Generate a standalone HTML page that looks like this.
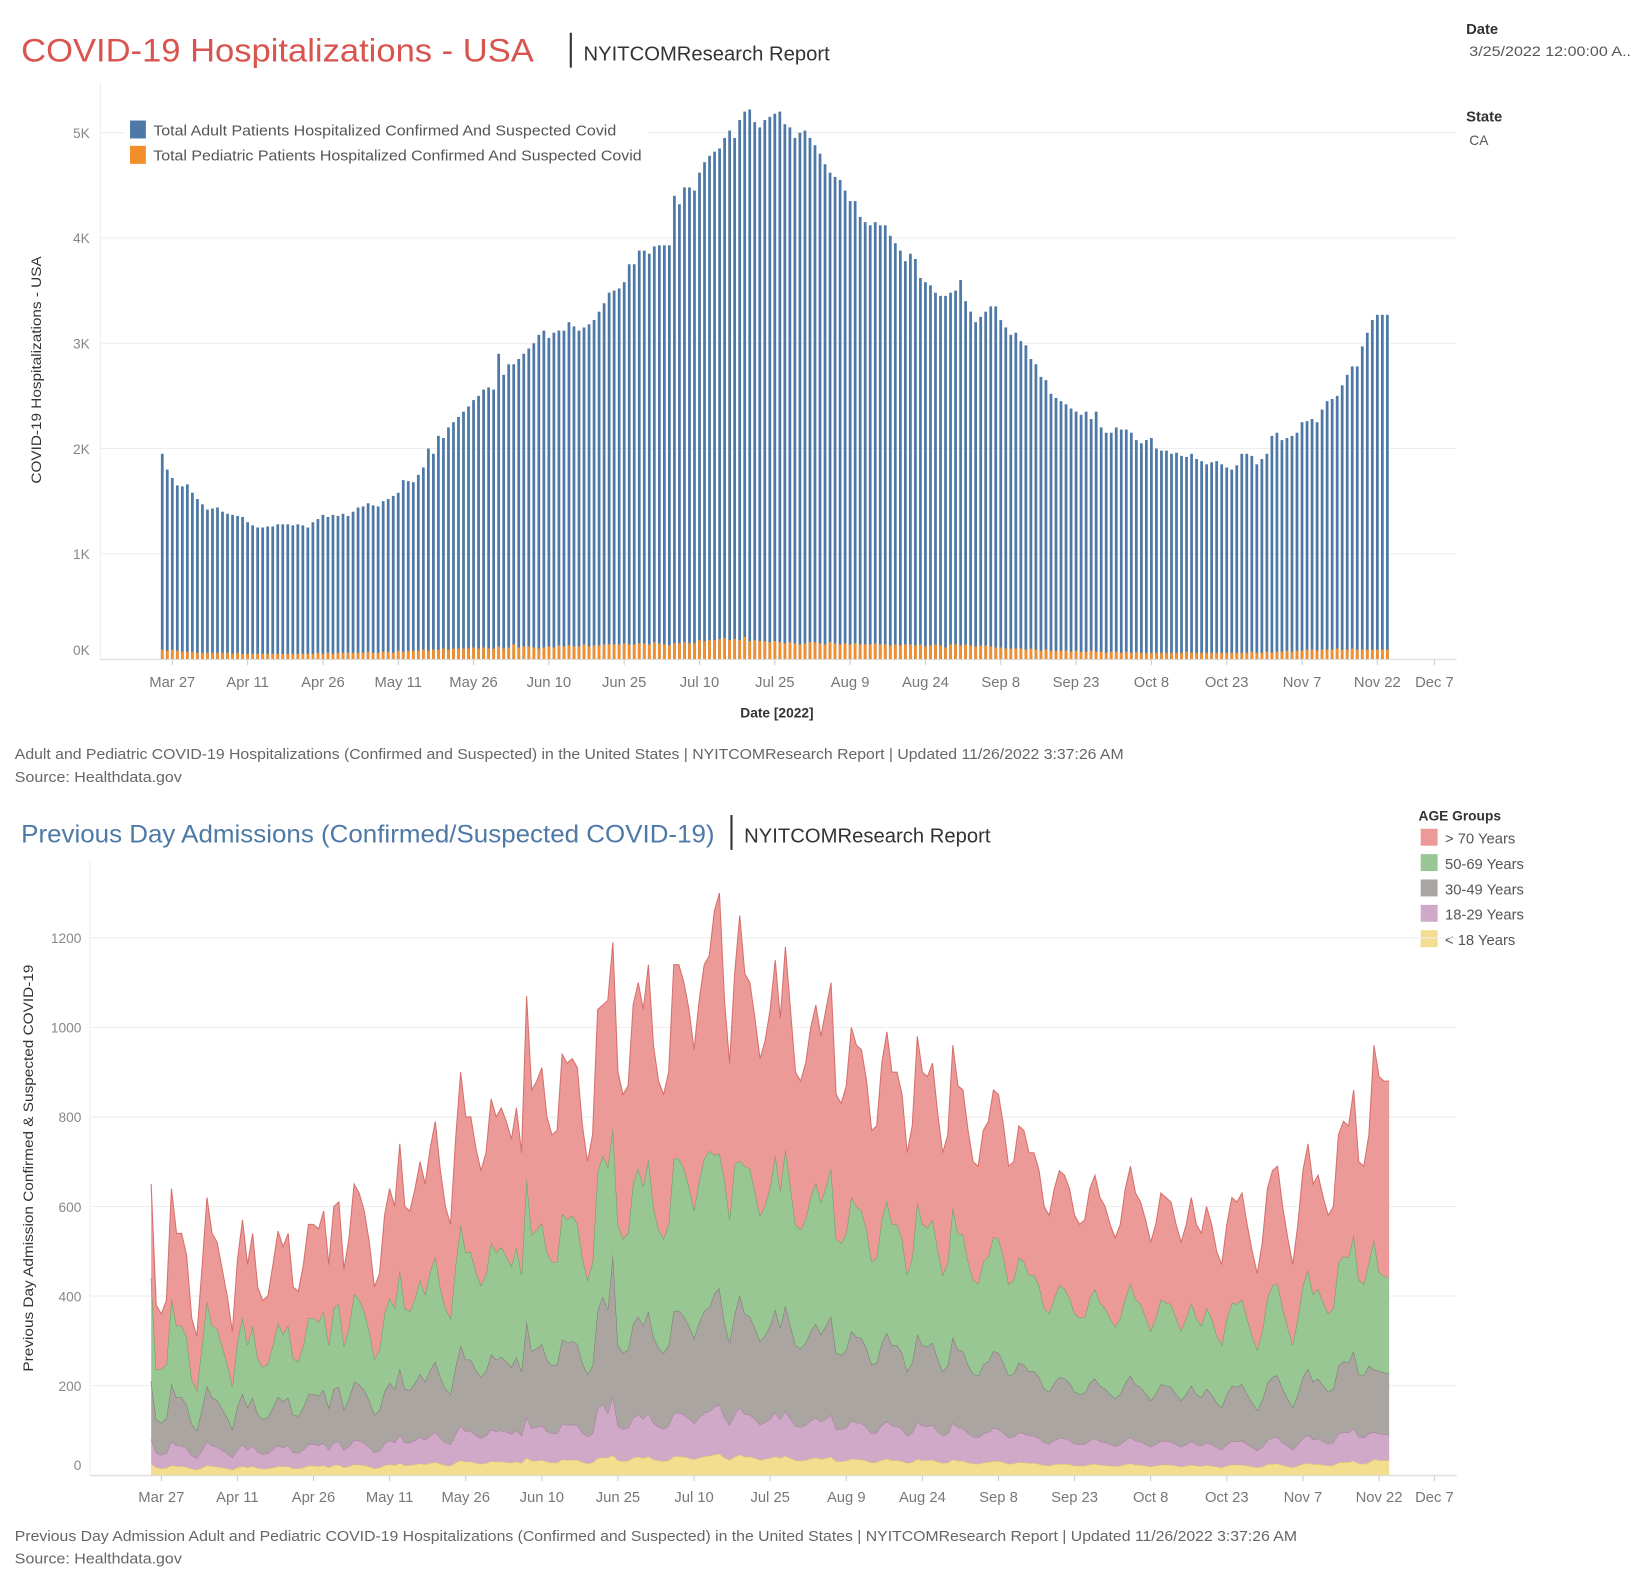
<!DOCTYPE html>
<html><head><meta charset="utf-8">
<style>
html,body{margin:0;padding:0;background:#fff;}
svg{display:block;font-family:"Liberation Sans",sans-serif;}
</style></head>
<body>
<svg id="root" width="1649" height="1574" viewBox="0 0 1560 1489" preserveAspectRatio="none" xmlns="http://www.w3.org/2000/svg">
  <rect x="0" y="0" width="1560" height="1489" fill="#fff"/>
  <text x="20" y="58" font-size="31" fill="#d9534f" textLength="485" lengthAdjust="spacingAndGlyphs">COVID-19 Hospitalizations - USA</text>
  <line x1="540" y1="31" x2="540" y2="64" stroke="#333" stroke-width="2"/>
  <text x="552" y="57" font-size="19" fill="#333" textLength="233" lengthAdjust="spacingAndGlyphs">NYITCOMResearch Report</text>
  <text x="1387" y="32" font-size="14" font-weight="bold" fill="#333">Date</text>
  <text x="1390" y="53" font-size="13" fill="#555" textLength="153" lengthAdjust="spacingAndGlyphs">3/25/2022 12:00:00 A..</text>
  <text x="1387" y="115" font-size="14" font-weight="bold" fill="#333">State</text>
  <text x="1390" y="137" font-size="13" fill="#555">CA</text>

  <g id="topGrid"></g>
  <g>
    <rect x="118" y="108" width="495" height="52" fill="#fff"/>
    <rect x="123" y="114" width="15" height="17" fill="#4e79a7"/>
    <text x="145" y="128" font-size="14" fill="#555" textLength="438" lengthAdjust="spacingAndGlyphs">Total Adult Patients Hospitalized Confirmed And Suspected Covid</text>
    <rect x="123" y="138" width="15" height="17" fill="#f28e2b"/>
    <text x="145" y="152" font-size="14" fill="#555" textLength="462" lengthAdjust="spacingAndGlyphs">Total Pediatric Patients Hospitalized Confirmed And Suspected Covid</text>
  </g>
  <g id="topBars"></g>
  <g id="topAxis"></g>
  <text transform="translate(39,350) rotate(-90)" text-anchor="middle" font-size="13" fill="#333" textLength="215" lengthAdjust="spacingAndGlyphs">COVID-19 Hospitalizations - USA</text>
  <text x="735" y="679" text-anchor="middle" font-size="13" font-weight="bold" fill="#333">Date [2022]</text>
  <text x="14" y="718" font-size="14" fill="#666" textLength="1049" lengthAdjust="spacingAndGlyphs">Adult and Pediatric COVID-19 Hospitalizations (Confirmed and Suspected) in the United States | NYITCOMResearch Report | Updated 11/26/2022 3:37:26 AM</text>
  <text x="14" y="740" font-size="14" fill="#666" textLength="158" lengthAdjust="spacingAndGlyphs">Source: Healthdata.gov</text>

  <text x="20" y="797" font-size="24" fill="#4e79a7" textLength="656" lengthAdjust="spacingAndGlyphs">Previous Day Admissions (Confirmed/Suspected COVID-19)</text>
  <line x1="692" y1="771" x2="692" y2="804" stroke="#333" stroke-width="2"/>
  <text x="704" y="797" font-size="19" fill="#333" textLength="233" lengthAdjust="spacingAndGlyphs">NYITCOMResearch Report</text>
  <g>
    <text x="1342" y="776" font-size="13" font-weight="bold" fill="#333">AGE Groups</text>
    <rect x="1344" y="784" width="16" height="16" fill="#ec9a97"/>
    <text x="1367" y="798" font-size="14" fill="#555">&gt; 70 Years</text>
    <rect x="1344" y="808" width="16" height="16" fill="#98c793"/>
    <text x="1367" y="822" font-size="14" fill="#555">50-69 Years</text>
    <rect x="1344" y="832" width="16" height="16" fill="#aaa5a0"/>
    <text x="1367" y="846" font-size="14" fill="#555">30-49 Years</text>
    <rect x="1344" y="856" width="16" height="16" fill="#d0a9c8"/>
    <text x="1367" y="870" font-size="14" fill="#555">18-29 Years</text>
    <rect x="1344" y="880" width="16" height="16" fill="#f3dd8e"/>
    <text x="1367" y="894" font-size="14" fill="#555">&lt; 18 Years</text>
  </g>
  <g id="botGrid"></g>
  <g id="botAreas"></g>
  <g id="botAxis"></g>
  <text transform="translate(31,1105) rotate(-90)" text-anchor="middle" font-size="13" fill="#333" textLength="385" lengthAdjust="spacingAndGlyphs">Previous Day Admission Confirmed &amp; Suspected COVID-19</text>
  <text x="14" y="1458" font-size="14" fill="#666" textLength="1213" lengthAdjust="spacingAndGlyphs">Previous Day Admission Adult and Pediatric COVID-19 Hospitalizations (Confirmed and Suspected) in the United States | NYITCOMResearch Report | Updated 11/26/2022 3:37:26 AM</text>
  <text x="14" y="1479" font-size="14" fill="#666" textLength="158" lengthAdjust="spacingAndGlyphs">Source: Healthdata.gov</text>
</svg>
<script>
// ---- shared data ----
const startDate = "2022-03-25";
const tickDates = ["2022-03-27","2022-04-11","2022-04-26","2022-05-11","2022-05-26","2022-06-10","2022-06-25","2022-07-10","2022-07-25","2022-08-09","2022-08-24","2022-09-08","2022-09-23","2022-10-08","2022-10-23","2022-11-07","2022-11-22","2022-12-07"];
const tickLabels = ["Mar 27","Apr 11","Apr 26","May 11","May 26","Jun 10","Jun 25","Jul 10","Jul 25","Aug 9","Aug 24","Sep 8","Sep 23","Oct 8","Oct 23","Nov 7","Nov 22","Dec 7"];

// ---- top chart data (thousands) ----
const topYTicks = [0,1,2,3,4,5];
const topYTickLabels = ["0K","1K","2K","3K","4K","5K"];
const adultK = [
1.95,1.80,1.72,1.65,1.64,1.66,1.58,1.52,1.47,1.42,
1.43,1.44,1.40,1.38,1.37,1.36,1.35,1.30,1.27,1.25,
1.25,1.26,1.26,1.28,1.28,1.28,1.27,1.28,1.27,1.25,
1.30,1.33,1.37,1.35,1.37,1.36,1.38,1.36,1.40,1.44,
1.45,1.48,1.46,1.45,1.50,1.52,1.55,1.58,1.70,1.69,
1.68,1.75,1.82,2.00,1.95,2.12,2.10,2.20,2.25,2.30,
2.35,2.40,2.46,2.50,2.56,2.58,2.56,2.90,2.70,2.80,
2.80,2.85,2.90,2.95,3.00,3.08,3.12,3.05,3.10,3.12,
3.12,3.20,3.16,3.12,3.15,3.18,3.22,3.30,3.38,3.48,
3.50,3.52,3.58,3.75,3.75,3.88,3.88,3.85,3.92,3.93,
3.93,3.93,4.40,4.32,4.48,4.48,4.45,4.62,4.72,4.78,
4.82,4.85,4.95,5.02,4.95,5.12,5.20,5.22,5.10,5.05,
5.12,5.15,5.18,5.20,5.08,5.05,4.95,5.00,5.02,4.95,
4.88,4.80,4.70,4.62,4.58,4.55,4.45,4.35,4.35,4.20,
4.15,4.12,4.15,4.12,4.12,4.02,3.95,3.88,3.78,3.85,
3.80,3.62,3.58,3.55,3.48,3.45,3.45,3.48,3.50,3.60,
3.40,3.30,3.20,3.25,3.30,3.35,3.35,3.22,3.15,3.08,
3.10,3.02,2.98,2.85,2.80,2.68,2.65,2.52,2.48,2.45,
2.42,2.38,2.35,2.32,2.35,2.28,2.35,2.20,2.15,2.15,
2.20,2.18,2.18,2.15,2.08,2.05,2.08,2.10,2.00,1.98,
1.98,1.95,1.96,1.93,1.92,1.95,1.90,1.88,1.85,1.87,
1.88,1.85,1.82,1.80,1.84,1.95,1.95,1.93,1.85,1.90,
1.95,2.12,2.15,2.08,2.10,2.12,2.15,2.25,2.26,2.28,
2.25,2.37,2.45,2.47,2.50,2.60,2.70,2.78,2.78,2.97,
3.10,3.22,3.27,3.27,3.27];
const pediatricK = [
.09,.08,.09,.08,.07,.07,.07,.06,.06,.06,
.06,.06,.06,.06,.05,.06,.05,.05,.05,.05,
.05,.05,.05,.05,.05,.05,.05,.05,.05,.05,
.05,.06,.05,.06,.05,.06,.06,.06,.06,.06,
.06,.07,.06,.06,.07,.07,.06,.08,.07,.08,
.08,.08,.09,.08,.09,.09,.10,.09,.10,.10,
.10,.10,.11,.10,.11,.10,.10,.12,.10,.11,
.14,.11,.12,.12,.11,.10,.11,.12,.11,.13,
.12,.13,.12,.12,.14,.12,.13,.13,.14,.14,
.14,.14,.15,.14,.14,.15,.15,.14,.16,.15,
.14,.13,.15,.15,.16,.15,.15,.18,.17,.18,
.18,.19,.20,.18,.19,.18,.21,.17,.18,.17,
.17,.16,.17,.16,.15,.16,.15,.14,.15,.16,
.16,.15,.14,.16,.15,.14,.15,.14,.15,.14,
.14,.14,.15,.14,.14,.13,.14,.13,.14,.14,
.13,.14,.12,.13,.14,.13,.11,.14,.14,.13,
.14,.13,.12,.13,.13,.12,.11,.11,.10,.10,
.10,.10,.09,.10,.09,.08,.09,.08,.08,.08,
.08,.07,.08,.07,.07,.08,.07,.07,.06,.07,
.07,.06,.07,.06,.07,.06,.06,.06,.06,.06,
.06,.06,.06,.06,.07,.06,.06,.06,.06,.06,
.06,.06,.06,.06,.06,.06,.06,.07,.06,.06,
.07,.06,.07,.07,.08,.07,.08,.08,.09,.09,
.08,.09,.09,.09,.10,.09,.09,.10,.09,.09,
.09,.09,.09,.09,.09];

// ---- bottom chart data (admissions) ----
const botYTicks = [0,200,400,600,800,1000,1200];
const totalAdmissions = [
650,380,360,390,640,540,540,490,350,310,
460,620,540,520,460,400,320,480,570,470,
540,420,390,400,470,545,510,540,420,410,
470,560,560,550,590,470,600,610,460,530,
650,630,590,520,420,450,580,640,600,740,
600,590,640,700,650,730,790,680,600,560,
750,900,800,800,730,680,720,840,800,820,
790,750,820,720,1070,860,880,910,800,760,
770,940,920,930,910,780,700,760,1040,1050,
1060,1190,900,850,870,1050,1100,1040,1140,960,
880,850,900,1140,1140,1100,1040,950,1060,1140,
1160,1260,1300,1060,920,1120,1250,1120,1100,1020,
930,970,1040,1150,1020,1180,1040,900,880,920,
1000,1050,980,1040,1100,850,830,870,1000,960,
950,880,770,780,920,990,900,900,850,720,
780,980,900,890,920,810,720,760,960,870,
860,770,700,690,770,790,860,850,780,690,
700,780,770,720,720,680,600,580,640,680,
670,640,580,560,570,640,670,620,600,560,
530,560,640,690,630,610,570,520,560,630,
620,610,560,520,560,620,560,540,600,560,
500,470,560,620,610,630,560,500,450,520,
640,680,690,600,530,470,560,680,740,650,
670,620,580,600,760,790,780,860,700,690,
760,960,890,880,880];
const under18 = [
25,18,15,16,22,20,20,18,14,12,
16,22,20,19,17,15,12,17,20,17,
20,16,14,15,17,20,19,20,15,15,
17,21,21,20,22,17,22,23,17,20,
24,23,22,19,15,17,22,24,22,27,
22,22,24,26,24,27,29,25,22,21,
28,33,30,30,27,25,27,31,30,30,
29,28,30,27,39,32,32,34,30,28,
28,35,34,34,34,29,26,28,38,39,
39,45,33,31,32,39,41,38,42,35,
33,31,33,42,42,41,38,35,39,42,
43,46,48,39,34,41,46,41,41,38,
34,36,38,42,38,43,38,33,32,34,
37,39,36,38,41,31,31,32,37,35,
35,32,28,29,34,36,33,33,31,27,
29,36,33,33,34,30,27,28,35,32,
32,28,26,25,28,29,32,31,29,25,
26,29,28,27,27,25,22,21,24,25,
25,24,21,21,21,24,25,23,22,21,
20,21,24,26,23,23,21,19,21,23,
23,23,21,19,21,23,21,20,22,21,
19,17,21,23,23,23,21,19,17,19,
24,25,26,22,20,17,21,25,27,24,
25,23,21,22,28,29,29,32,26,25,
28,36,33,33,33];
const age18to29 = [
55,32,30,33,54,46,46,42,30,26,
39,53,46,44,39,34,27,41,48,40,
46,36,33,34,40,46,43,46,36,35,
40,48,48,47,50,40,51,52,39,45,
55,54,50,44,36,38,49,54,51,63,
51,50,54,60,55,62,67,58,51,48,
64,77,68,68,62,58,61,71,68,70,
67,64,70,61,91,73,75,77,68,65,
65,80,78,79,77,66,60,65,110,120,
100,130,77,72,74,89,94,88,97,82,
75,72,77,97,97,94,88,81,90,97,
99,107,110,90,78,95,106,95,94,87,
79,82,88,98,87,100,88,77,75,78,
85,89,83,88,94,72,71,74,85,82,
81,75,65,66,78,84,77,77,72,61,
66,83,77,76,78,69,61,65,82,74,
73,65,60,59,65,67,73,72,66,59,
60,66,65,61,61,58,51,49,54,58,
57,54,49,48,48,54,57,53,51,48,
45,48,54,59,54,52,48,44,48,54,
53,52,48,44,48,53,48,46,51,48,
43,40,48,53,52,54,48,43,38,44,
54,58,59,51,45,40,48,58,63,55,
57,53,49,51,65,67,66,73,60,59,
65,60,60,58,57];
const age30to49 = [
130,75,72,78,128,108,108,98,70,62,
92,124,108,104,92,80,64,96,114,94,
108,84,78,80,94,109,102,108,84,82,
94,112,112,110,118,94,120,122,92,106,
130,126,118,104,84,90,116,128,120,148,
120,118,128,140,130,146,158,136,120,112,
150,180,160,160,146,136,144,168,160,164,
158,150,164,144,214,172,176,182,160,152,
154,188,184,186,182,156,140,152,220,240,
230,320,180,170,174,210,220,208,228,192,
176,170,180,228,228,220,208,190,212,228,
232,252,260,212,184,224,250,224,220,204,
186,194,208,230,204,236,208,180,176,184,
200,210,196,208,220,170,166,174,200,192,
190,176,154,156,184,198,180,180,170,144,
156,196,180,178,184,162,144,152,192,174,
172,154,140,138,154,158,172,170,156,138,
140,156,154,144,144,136,120,116,128,136,
134,128,116,112,114,128,134,124,120,112,
106,112,128,138,126,122,114,104,112,126,
124,122,112,104,112,124,112,108,120,112,
100,94,112,124,122,126,112,100,90,104,
128,136,138,120,106,94,112,136,148,130,
134,124,116,120,152,158,156,172,140,138,
152,140,140,138,137];
const age50to69 = [
230,110,120,120,190,160,160,150,100,90,
140,190,160,160,140,120,95,145,170,140,
160,125,115,120,140,165,150,160,125,122,
140,170,170,165,175,140,180,185,140,160,
195,190,175,155,125,135,175,190,180,220,
180,175,190,210,195,220,235,200,180,170,
225,270,240,240,220,205,215,250,240,245,
235,225,245,215,320,260,265,270,240,230,
230,280,275,280,270,235,210,230,310,315,
320,280,270,255,260,315,330,310,340,290,
265,255,270,340,340,330,310,285,315,340,
350,310,300,320,275,335,300,330,330,305,
280,290,310,345,305,350,310,270,265,275,
300,315,295,310,330,255,250,260,300,290,
285,265,230,235,275,295,270,270,255,215,
235,295,270,265,275,245,215,230,290,260,
260,230,210,205,230,235,255,255,235,205,
210,235,230,215,215,205,180,175,190,205,
200,190,175,170,170,190,200,185,180,170,
160,170,190,205,190,185,170,155,170,190,
185,185,170,155,170,185,170,160,180,170,
150,140,170,185,185,190,170,150,135,155,
190,205,205,180,160,140,170,205,220,195,
200,185,175,180,230,235,235,260,210,205,
230,290,220,215,215];

const NS = "http://www.w3.org/2000/svg";
function mk(tag, attrs, parent){ const e=document.createElementNS(NS,tag); for(const k in attrs) e.setAttribute(k,attrs[k]); parent.appendChild(e); return e; }
function dayIndex(s){ return Math.round((Date.parse(s)-Date.parse(startDate))/86400000); }

const topX = d => 153.5 + 4.75*d;
const topY = v => 623.5 - 99.6*v;
const botX = d => 143 + 4.8*d;
const botY = v => 1395.5 - 0.4236*v;

(function drawTop(){
  const grid=document.getElementById('topGrid'), bars=document.getElementById('topBars'), ax=document.getElementById('topAxis');
  mk('line',{x1:95,y1:78,x2:95,y2:624,stroke:'#eee'},grid);
  topYTicks.forEach((t,i)=>{
    const y=topY(t);
    const gl=mk('line',{x1:95,y1:y,x2:1378,y2:y,stroke:'#eee'},grid);
    
    
    const tl=mk('text',{x:85,y:(i===0?y-4:y+5),'text-anchor':'end','font-size':13,fill:'#888'},ax);
    tl.textContent=topYTickLabels[i];
    
    
  });
  adultK.forEach((v,i)=>{
    const x=topX(i)-1.3;
    const b=mk('rect',{x:x,y:topY(v),width:2.6,height:topY(0)-topY(v),fill:'#4e79a7'},bars);
    
    
    const p=pediatricK[i];
    const o=mk('rect',{x:x,y:topY(p),width:2.6,height:topY(0)-topY(p),fill:'#f28e2b'},bars);
    
    
  });
  mk('line',{x1:95,y1:624,x2:1378,y2:624,stroke:'#ddd'},ax);
  tickDates.forEach((d,i)=>{
    let x=topX(dayIndex(d)); if(x>1357) x=1357;
    mk('line',{x1:x,y1:624,x2:x,y2:629,stroke:'#ccc'},ax);
    const t=mk('text',{x:x,y:650,'text-anchor':'middle','font-size':14,fill:'#777'},ax);
    t.textContent=tickLabels[i];
    
    
  });
})();

(function drawBottom(){
  const grid=document.getElementById('botGrid'), areas=document.getElementById('botAreas'), ax=document.getElementById('botAxis');
  mk('line',{x1:85,y1:815,x2:85,y2:1396,stroke:'#eee'},grid);
  botYTicks.forEach(t=>{
    const y=botY(t);
    const gl=mk('line',{x1:85,y1:y,x2:1378,y2:y,stroke:'#eee'},grid);
    
    
    const tl=mk('text',{x:77,y:(t===0?y-5:y+5),'text-anchor':'end','font-size':13,fill:'#888'},ax);
    tl.textContent=String(t);
    
    
  });
  const n=totalAdmissions.length;
  const over70=totalAdmissions.map((t,i)=>Math.max(0,t-under18[i]-age18to29[i]-age30to49[i]-age50to69[i]));
  const layers=[
    {vals:under18,fill:'#f3dd8e',stroke:'#e0c46a',name:'area-under-18'},
    {vals:age18to29,fill:'#d0a9c8',stroke:'#a87f9f',name:'area-18-29'},
    {vals:age30to49,fill:'#aaa5a0',stroke:'#7d7873',name:'area-30-49'},
    {vals:age50to69,fill:'#98c793',stroke:'#6e9c66',name:'area-50-69'},
    {vals:over70,fill:'#ec9a97',stroke:'#d6706c',name:'area-over-70'}
  ];
  let base=new Array(n).fill(0);
  layers.forEach(L=>{
    const top=base.map((b,i)=>b+L.vals[i]);
    let d='M'+botX(0)+','+botY(top[0]);
    for(let i=1;i<n;i++) d+=' L'+botX(i).toFixed(2)+','+botY(top[i]).toFixed(2);
    for(let i=n-1;i>=0;i--) d+=' L'+botX(i).toFixed(2)+','+botY(base[i]).toFixed(2);
    d+=' Z';
    const a=mk('path',{d:d,fill:L.fill,stroke:'none'},areas);
    
    
    let ld='M'+botX(0)+','+botY(top[0]);
    for(let i=1;i<n;i++) ld+=' L'+botX(i).toFixed(2)+','+botY(top[i]).toFixed(2);
    mk('path',{d:ld,fill:'none',stroke:L.stroke,'stroke-width':1},areas);
    base=top;
  });
  mk('line',{x1:85,y1:1396,x2:1378,y2:1396,stroke:'#ddd'},ax);
  tickDates.forEach((d,i)=>{
    let x=botX(dayIndex(d)); if(x>1357) x=1357;
    mk('line',{x1:x,y1:1396,x2:x,y2:1401,stroke:'#ccc'},ax);
    const t=mk('text',{x:x,y:1421,'text-anchor':'middle','font-size':14,fill:'#777'},ax);
    t.textContent=tickLabels[i];
    
    
  });
})();
</script>
</body></html>
